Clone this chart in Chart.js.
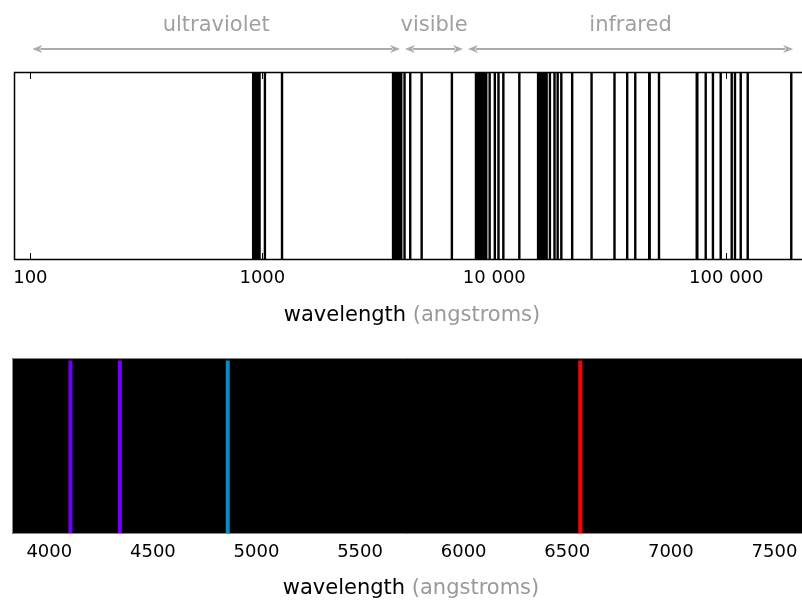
<!DOCTYPE html>
<html><head><meta charset="utf-8">
<script src="https://cdn.jsdelivr.net/npm/chart.js@4.4.1/dist/chart.umd.min.js"></script>
<style>
html,body{margin:0;padding:0;background:#fff;}
#wrap{position:relative;width:802px;height:600px;overflow:hidden;background:#fff;}
canvas{position:absolute;left:0;}
#c1{top:0;} #c2{top:335px;}
</style></head><body>
<div id="wrap"><canvas id="c1" width="802" height="335"></canvas><canvas id="c2" width="802" height="265"></canvas></div>
<script>
// ---- data (wavelengths in angstroms) ----
const lymanLines = [1215.67, 1025.72, 972.54, 949.74, 937.80, 930.75, 926.23, 923.15, 920.96, 919.35, 918.13, 917.18, 916.43, 915.82, 915.33, 914.92, 914.58, 914.29, 914.04, 913.83, 913.64, 913.48, 913.34, 913.21, 913.10, 913.00, 912.91, 912.83, 912.76];
const balmerLines = [6562.79, 4861.35, 4340.47, 4101.74, 3970.07, 3889.05, 3835.38, 3797.90, 3770.63, 3750.15, 3734.37, 3721.94, 3711.97, 3703.86, 3697.15, 3691.56, 3686.83, 3682.81, 3679.36, 3676.36, 3673.76, 3671.48, 3669.46, 3667.68, 3666.10, 3664.68, 3663.40, 3662.26, 3661.22, 3660.28, 3659.42];
const paschenLines = [18751.0, 12818.1, 10938.1, 10049.4, 9545.97, 9229.02, 9014.91, 8862.79, 8750.47, 8665.02, 8598.39, 8545.38, 8502.48, 8467.25, 8437.96, 8413.32, 8392.40, 8374.48, 8359.01, 8345.55, 8333.78];
const brackettLines = [40511.6, 26251.5, 21655.3, 19445.6, 18174.1, 17362.1, 16806.5, 16407.2, 16109.3, 15880.5, 15700.7, 15556.5, 15438.9];
const pfundLines = [74578, 46525, 37395, 32961];
const humphreysLines = [123680, 75004, 51273, 46712];
const higherLines = [190570, 115400, 109000, 105500, 94600, 87580, 81520, 10420];

const topTickValues = [100, 1000, 10000, 100000];
const topTickLabels = ['100', '1000', '10 000', '100 000'];

const regionNames = ['ultraviolet', 'visible', 'infrared'];
const regionStart = [102, 4120, 7700];
const regionEnd = [3920, 7330, 194000];

const visibleLines = [4101.74, 4340.47, 4861.35, 6562.79];
const visibleColors = ['#6a00f5', '#7400ff', '#0a8cc0', '#ff0000'];

const bottomTickValues = [4000, 4500, 5000, 5500, 6000, 6500, 7000, 7500];
const bottomTickLabels = ['4000', '4500', '5000', '5500', '6000', '6500', '7000', '7500'];

const axisTitleMain = 'wavelength';
const axisTitleUnit = '(angstroms)';

// ---- helpers ----
Chart.defaults.font.family = "'DejaVu Sans', sans-serif";

function segments(list, y0, y1) {
  const pts = [];
  list.forEach(l => { pts.push({x: l, y: y0}, {x: l, y: y1}, {x: l, y: null}); });
  return pts;
}

function drawTitle(ctx, cx, baseline) {
  ctx.save();
  ctx.font = '21px "DejaVu Sans"';
  ctx.textBaseline = 'alphabetic';
  ctx.textAlign = 'left';
  const a = axisTitleMain + ' ';
  const wa = ctx.measureText(a).width;
  const wb = ctx.measureText(axisTitleUnit).width;
  const x0 = cx - (wa + wb) / 2;
  ctx.fillStyle = '#000';
  ctx.fillText(axisTitleMain, x0, baseline);
  ctx.fillStyle = '#999';
  ctx.fillText(axisTitleUnit, x0 + wa, baseline);
  ctx.restore();
}

function fixAxis(h) {
  return s => { s.height = h; s.paddingLeft = 0; s.paddingRight = 0; };
}

// ---- top chart ----
const topSeries = [
  ['Lyman', lymanLines], ['Balmer', balmerLines], ['Paschen', paschenLines],
  ['Brackett', brackettLines], ['Pfund', pfundLines], ['Humphreys', humphreysLines], ['higher', higherLines]
];

const topPlugin = {
  id: 'topDecor',
  beforeDatasetsDraw(chart) {
    const {ctx, chartArea: a, scales: {x}} = chart;
    ctx.save();
    ctx.strokeStyle = '#000';
    ctx.lineWidth = 1;
    topTickValues.forEach(v => {
      const px = Math.round(x.getPixelForValue(v)) + 0.5;
      ctx.beginPath();
      ctx.moveTo(px, a.bottom); ctx.lineTo(px, a.bottom - 7);
      ctx.moveTo(px, a.top); ctx.lineTo(px, a.top + 7);
      ctx.stroke();
    });
    ctx.restore();
  },
  afterDraw(chart) {
    const {ctx, chartArea: a, scales: {x}} = chart;
    ctx.save();
    // frame (right side cropped)
    ctx.strokeStyle = '#000';
    ctx.lineWidth = 1.5;
    ctx.beginPath();
    ctx.moveTo(a.right + 2, a.top + 0.5);
    ctx.lineTo(a.left + 0.5, a.top + 0.5);
    ctx.lineTo(a.left + 0.5, a.bottom - 0.5);
    ctx.lineTo(a.right + 2, a.bottom - 0.5);
    ctx.stroke();
    // region arrows and labels
    const ay = 49;
    ctx.strokeStyle = '#aaa';
    ctx.fillStyle = '#aaa';
    ctx.lineWidth = 2;
    regionNames.forEach((name, i) => {
      const x1 = x.getPixelForValue(regionStart[i]);
      const x2 = x.getPixelForValue(regionEnd[i]);
      const hl = 10, hw = 4;
      ctx.beginPath();
      ctx.moveTo(x1 + hl - 2, ay); ctx.lineTo(x2 - hl + 2, ay);
      ctx.stroke();
      ctx.beginPath();
      ctx.moveTo(x1, ay); ctx.lineTo(x1 + hl, ay - hw); ctx.lineTo(x1 + hl - 3, ay); ctx.lineTo(x1 + hl, ay + hw); ctx.closePath();
      ctx.fill();
      ctx.beginPath();
      ctx.moveTo(x2, ay); ctx.lineTo(x2 - hl, ay - hw); ctx.lineTo(x2 - hl + 3, ay); ctx.lineTo(x2 - hl, ay + hw); ctx.closePath();
      ctx.fill();
      ctx.save();
      ctx.font = '21px "DejaVu Sans"';
      ctx.fillStyle = '#a0a0a0';
      ctx.textAlign = 'center';
      ctx.textBaseline = 'alphabetic';
      ctx.fillText(name, (x1 + x2) / 2, 31);
      ctx.restore();
    });
    ctx.restore();
    drawTitle(ctx, 412, 321);
  }
};

new Chart(document.getElementById('c1'), {
  type: 'line',
  data: {
    datasets: topSeries.map(([name, list]) => ({
      label: name,
      data: segments(list, 0, 1),
      borderColor: '#000',
      borderWidth: 2.4,
      borderCapStyle: 'butt',
      pointRadius: 0,
      fill: false,
      tension: 0,
      spanGaps: false
    }))
  },
  options: {
    responsive: false,
    animation: false,
    events: [],
    layout: {padding: {left: 14, right: 1, top: 72, bottom: 0}},
    plugins: {legend: {display: false}, tooltip: {enabled: false}},
    scales: {
      x: {
        type: 'logarithmic',
        min: 85,
        max: 209900,
        afterBuildTicks: s => { s.ticks = topTickValues.map(v => ({value: v})); },
        afterFit: fixAxis(75),
        grid: {display: false, drawTicks: false},
        border: {display: false},
        ticks: {
          padding: 7.5,
          color: '#000',
          font: {size: 18},
          autoSkip: false,
          maxRotation: 0,
          callback: (v, i) => topTickLabels[i]
        }
      },
      y: {display: false, min: 0, max: 1}
    }
  },
  plugins: [topPlugin]
});

// ---- bottom chart ----
const bottomPlugin = {
  id: 'bottomDecor',
  beforeDatasetsDraw(chart) {
    const {ctx, chartArea: a} = chart;
    ctx.save();
    ctx.fillStyle = '#000';
    ctx.fillRect(a.left, a.top, a.right - a.left, a.bottom - a.top);
    ctx.restore();
  },
  afterDraw(chart) {
    const {ctx, chartArea: a} = chart;
    ctx.save();
    ctx.strokeStyle = '#888';
    ctx.lineWidth = 1;
    ctx.beginPath();
    ctx.moveTo(a.right + 1, a.top + 0.5);
    ctx.lineTo(a.left + 0.5, a.top + 0.5);
    ctx.lineTo(a.left + 0.5, a.bottom - 0.5);
    ctx.lineTo(a.right + 1, a.bottom - 0.5);
    ctx.stroke();
    ctx.restore();
    drawTitle(ctx, 411, 259);
  }
};

new Chart(document.getElementById('c2'), {
  type: 'line',
  data: {
    datasets: visibleLines.map((l, i) => ({
      label: String(l),
      data: [{x: l, y: 0}, {x: l, y: 1}],
      borderColor: visibleColors[i],
      borderWidth: 4,
      borderCapStyle: 'butt',
      pointRadius: 0,
      fill: false,
      tension: 0
    }))
  },
  options: {
    responsive: false,
    animation: false,
    events: [],
    layout: {padding: {left: 12, right: 0, top: 23, bottom: 0}},
    plugins: {legend: {display: false}, tooltip: {enabled: false}},
    scales: {
      x: {
        type: 'linear',
        min: 3820,
        max: 7633,
        afterBuildTicks: s => { s.ticks = bottomTickValues.map(v => ({value: v})); },
        afterFit: fixAxis(66),
        grid: {display: false, drawTicks: false},
        border: {display: false},
        ticks: {
          padding: 8,
          color: '#000',
          font: {size: 18},
          autoSkip: false,
          maxRotation: 0,
          callback: (v, i) => bottomTickLabels[i]
        }
      },
      y: {display: false, min: -0.005, max: 1.015}
    }
  },
  plugins: [bottomPlugin]
});
</script>
</body></html>
